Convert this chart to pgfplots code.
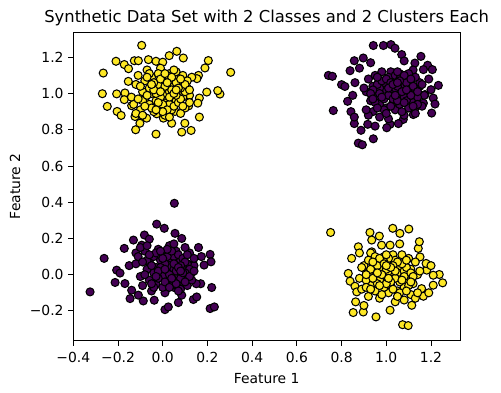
\documentclass[border=0pt]{standalone}
\usepackage{pgfplots}
\pgfplotsset{compat=1.18}
\usepackage{fontspec}
\setmainfont{DejaVu Sans}
\definecolor{vyel}{HTML}{FDE725}
\definecolor{vpur}{HTML}{440154}
\begin{document}
\begin{tikzpicture}
\begin{axis}[
  name=ax,
  scale only axis, width=278.6pt, height=222.5pt,
  xmin=-0.4, xmax=1.33, ymin=-0.365, ymax=1.34,
  xtick={-0.4,-0.2,0,0.2,0.4,0.6,0.8,1.0,1.2},
  xticklabels={−0.4,−0.2,0.0,0.2,0.4,0.6,0.8,1.0,1.2},
  ytick={-0.2,0,0.2,0.4,0.6,0.8,1.0,1.2},
  yticklabels={−0.2,0.0,0.2,0.4,0.6,0.8,1.0,1.2},
  tick align=outside, xtick pos=bottom, ytick pos=left,
  major tick length=3.5pt,
  tick label style={font=\fontsize{10}{12}\selectfont},
  xticklabel style={yshift=-1.5pt},
  label style={font=\fontsize{10}{12}\selectfont},
  xlabel={Feature 1}, ylabel={Feature 2},
  xlabel style={yshift=-0.5pt},
  title={Synthetic Data Set with 2 Classes and 2 Clusters Each},
  title style={font=\fontsize{11.8}{14}\selectfont, yshift=-5pt},
  axis line style={line width=0.6pt},
  every tick/.style={black, line width=0.6pt},
  clip=false,
]
% top-left cluster (yellow)
\addplot[only marks, mark=*, mark size=2.9pt, mark options={fill=vyel, draw=black, line width=0.75pt}] table {
x y
-0.094 1.266
-0.266 1.113
0.304 1.117
-0.270 0.999
-0.248 0.929
-0.204 0.901
-0.186 0.879
-0.121 0.800
-0.030 0.776
0.085 0.787
0.127 0.796
0.164 0.870
0.256 0.997
0.246 1.016
0.204 1.182
0.189 1.141
0.063 1.233
0.029 1.209
0.092 1.196
-0.209 1.178
-0.127 1.181
-0.109 1.181
-0.064 1.187
-0.030 1.178
0.000 1.173
-0.172 1.160
-0.153 1.137
0.160 1.100
0.153 1.082
0.197 1.008
0.164 0.975
0.157 0.947
0.116 0.932
-0.206 0.998
-0.169 1.003
-0.172 0.966
-0.139 0.933
-0.154 1.067
-0.124 0.873
-0.087 0.873
-0.072 0.864
-0.102 0.836
0.003 0.864
0.040 0.836
0.099 0.836
0.025 0.882
0.055 0.901
-0.027 0.888
-0.12 1.05
-0.08 0.97
-0.05 1.09
-0.02 0.93
0.00 1.02
0.03 1.11
0.06 0.96
0.09 1.06
0.12 0.99
-0.10 0.91
-0.07 1.13
-0.03 1.04
0.01 0.88
0.04 1.07
0.07 1.00
0.10 0.92
0.13 1.09
-0.14 0.98
-0.06 0.94
-0.01 1.14
0.02 0.97
0.05 1.04
0.08 0.89
0.11 1.03
-0.09 1.01
-0.04 0.90
0.00 1.08
0.03 0.94
0.06 1.12
0.09 0.98
-0.11 1.10
-0.05 1.00
-0.02 1.05
0.01 0.99
0.04 0.91
0.07 1.08
0.10 1.01
-0.13 0.94
-0.08 1.07
-0.03 0.96
0.02 1.10
0.05 0.93
0.08 1.03
0.12 0.95
-0.06 1.03
-0.01 0.98
0.03 1.01
0.06 1.06
-0.09 0.96
-0.04 1.06
0.00 0.94
0.04 1.02
0.09 1.10
-0.12 0.89
-0.07 0.99
-0.02 1.11
0.02 0.91
0.07 0.95
0.11 1.07
-0.10 1.04
-0.05 0.92
-0.01 1.08
0.05 1.13
0.08 0.97
-0.03 1.00
0.01 1.04
0.06 0.99
-0.08 0.93
0.03 0.98
0.10 1.05
-0.06 1.11
-0.02 0.95
0.04 1.09
0.07 1.03
-0.11 0.97
0.00 0.90
0.05 1.00
-0.04 1.02
0.02 1.06
0.09 0.93
-0.07 1.09
-0.01 1.01
0.03 0.87
0.06 1.02
0.12 1.02
-0.09 0.88
-0.05 1.05
0.01 1.11
0.08 1.08
-0.03 0.91
};
% top-right cluster (purple)
\addplot[only marks, mark=*, mark size=2.9pt, mark options={fill=vpur, draw=black, line width=0.75pt}] table {
x y
0.741 1.100
0.759 1.095
0.763 0.906
0.800 1.049
0.815 1.039
0.838 1.126
0.857 1.181
0.897 1.196
0.942 1.265
0.987 1.265
1.021 1.270
1.039 1.250
1.069 1.215
1.155 1.205
1.128 1.168
1.185 1.156
1.206 1.132
1.166 1.132
1.233 1.045
1.200 1.021
1.173 0.994
1.210 0.975
1.218 0.942
1.203 0.892
1.166 0.947
1.128 0.920
1.121 0.884
1.076 0.857
1.054 0.834
1.017 0.830
1.002 0.811
0.942 0.750
0.875 0.726
0.893 0.717
0.857 0.834
0.887 0.797
0.917 0.830
0.842 0.900
0.857 0.870
0.827 0.957
0.86 1.06
0.85 0.99
0.88 1.14
0.93 1.17
1.08 1.18
1.19 1.08
0.95 0.82
1.15 1.04
1.08 0.88
1.00 0.92
1.12 0.95
0.96 0.98
1.05 1.00
1.14 1.03
0.99 1.06
1.09 1.09
1.02 1.12
0.94 0.90
1.16 0.93
1.07 0.97
0.91 1.01
1.10 1.04
1.03 1.07
0.95 1.10
1.12 1.13
1.01 0.86
0.97 0.94
1.17 0.99
1.00 1.02
1.07 1.05
0.92 1.08
1.06 1.11
1.04 0.91
0.93 0.96
1.11 1.00
0.97 1.03
1.15 1.06
1.01 1.09
1.13 0.89
1.03 0.95
1.08 0.98
1.02 1.01
0.94 1.04
1.11 1.07
1.04 1.10
0.97 0.87
1.10 0.92
0.99 0.97
1.13 1.02
0.96 1.05
1.06 1.08
0.98 1.12
1.06 0.94
1.01 0.99
1.04 1.03
1.09 1.06
0.99 0.91
1.09 0.96
0.97 1.00
1.05 1.04
1.13 1.09
0.92 0.88
1.02 0.93
1.14 0.98
0.94 1.02
0.98 1.07
1.10 1.11
1.07 0.90
0.95 0.95
1.11 0.99
1.16 1.05
1.00 1.08
1.03 0.97
1.07 1.01
1.02 1.06
0.96 0.92
1.01 1.03
1.08 1.10
1.14 0.94
0.98 0.98
1.12 1.04
1.06 1.07
1.00 0.89
0.93 1.00
1.03 1.05
1.05 0.96
1.09 1.02
0.96 1.09
1.12 0.93
1.04 0.99
0.90 1.03
1.05 1.06
1.05 1.12
0.91 0.91
1.08 0.95
1.14 1.01
1.11 1.08
0.94 0.97
};
% bottom-left cluster (purple)
\addplot[only marks, mark=*, mark size=2.9pt, mark options={fill=vpur, draw=black, line width=0.75pt}] table {
x y
0.052 0.394
-0.027 0.279
0.007 0.256
0.055 0.228
0.085 0.200
-0.082 0.219
-0.060 0.196
-0.094 0.163
-0.131 0.191
-0.172 0.145
-0.262 0.090
-0.325 -0.095
0.212 0.112
0.216 0.071
0.185 0.053
0.219 -0.071
0.173 0.100
-0.206 0.025
-0.213 -0.043
-0.169 -0.049
-0.191 0.009
-0.146 -0.132
-0.087 -0.145
-0.038 -0.141
0.010 -0.193
0.025 -0.178
0.070 -0.154
0.085 -0.113
0.137 -0.137
0.152 -0.123
0.212 -0.187
0.231 -0.178
-0.139 -0.086
-0.109 -0.113
-0.15 0.05
0.17 -0.05
-0.12 0.12
0.16 0.15
-0.10 -0.01
-0.06 0.07
-0.03 -0.05
0.00 0.11
0.02 0.02
0.05 -0.07
0.08 0.08
0.11 -0.02
0.14 0.05
-0.08 0.13
-0.05 -0.09
-0.01 0.00
0.03 0.16
0.06 -0.03
0.09 0.04
0.12 0.12
0.15 -0.05
-0.12 0.06
-0.04 0.10
0.01 -0.10
0.04 0.07
0.07 0.00
0.10 0.15
0.13 0.01
-0.07 0.03
-0.02 0.14
0.02 -0.04
0.05 0.10
0.08 -0.08
0.11 0.06
-0.09 -0.06
-0.03 0.04
0.00 -0.01
0.03 0.05
0.06 0.13
0.09 -0.04
0.12 0.03
-0.11 0.10
-0.06 -0.03
-0.01 0.08
0.04 -0.06
0.07 0.11
0.10 0.01
0.14 0.09
-0.04 0.01
0.01 0.06
0.05 0.03
0.08 -0.02
-0.07 0.08
-0.02 -0.02
0.02 0.10
0.06 0.02
0.11 -0.06
-0.10 0.15
-0.05 0.05
0.00 -0.07
0.04 0.13
0.09 0.09
0.13 -0.03
-0.08 0.00
-0.03 0.12
0.01 -0.04
0.07 -0.09
0.10 0.07
-0.01 0.04
0.03 0.00
0.08 0.05
-0.06 0.11
0.05 0.06
0.12 -0.01
-0.04 -0.07
0.00 0.09
0.06 -0.05
0.09 0.01
-0.09 0.07
0.02 0.14
0.07 0.04
-0.02 0.02
0.04 -0.02
0.11 0.11
-0.05 -0.05
0.01 0.03
0.05 0.17
0.08 0.02
0.14 0.02
-0.07 0.16
-0.03 -0.01
0.03 -0.07
0.10 -0.04
-0.01 0.13
};
% bottom-right cluster (yellow)
\addplot[only marks, mark=*, mark size=2.9pt, mark options={fill=vyel, draw=black, line width=0.75pt}] table {
x y
0.751 0.233
0.927 0.233
0.969 0.213
1.029 0.256
1.061 0.228
1.101 0.252
0.875 0.154
0.845 0.090
0.830 0.007
0.838 -0.036
0.860 -0.064
0.868 -0.095
0.863 -0.150
0.852 -0.209
0.897 -0.206
0.954 -0.233
1.017 -0.196
1.073 -0.276
1.098 -0.281
1.114 -0.169
1.166 -0.119
1.158 -0.077
1.210 -0.058
1.252 -0.045
1.237 0.001
1.210 -0.003
1.181 0.025
1.178 0.062
1.151 0.098
1.143 0.145
1.148 0.182
1.017 0.163
0.979 0.163
0.935 0.191
0.935 0.126
1.19 -0.10
0.88 0.12
1.06 0.17
0.90 -0.17
1.20 0.05
0.97 -0.13
1.05 -0.09
0.93 -0.06
1.09 -0.03
1.00 -0.01
0.91 0.02
1.06 0.05
0.96 0.08
1.03 0.11
1.11 -0.11
0.89 -0.08
0.98 -0.04
1.14 0.00
0.95 0.03
1.02 0.06
1.10 0.09
0.93 0.12
1.04 -0.15
1.08 -0.07
0.88 -0.02
1.05 0.01
0.98 0.04
1.13 0.07
0.99 0.10
1.01 -0.10
1.12 -0.05
0.94 -0.01
1.08 0.02
0.90 0.05
1.04 0.08
0.92 -0.12
1.02 -0.06
0.97 -0.03
1.03 0.00
1.11 0.03
0.94 0.06
1.01 0.09
1.08 -0.14
0.95 -0.09
1.06 -0.04
0.92 0.01
1.09 0.04
0.99 0.07
1.07 0.11
0.99 -0.07
1.04 -0.02
1.01 0.02
0.96 0.05
1.06 -0.10
0.96 -0.05
1.08 -0.01
1.00 0.03
0.92 0.08
1.13 -0.13
1.03 -0.08
0.91 -0.03
1.11 0.01
1.07 0.06
0.95 0.10
0.98 -0.11
1.10 -0.06
0.94 -0.02
0.89 0.04
1.05 0.07
1.02 -0.04
0.98 0.00
1.03 0.05
1.09 -0.09
1.04 0.02
0.97 0.09
0.91 -0.07
1.07 -0.03
0.93 0.03
0.99 0.06
1.05 -0.12
1.12 -0.01
1.02 0.04
1.00 -0.05
0.96 0.01
1.09 0.08
0.93 -0.08
1.01 -0.02
1.15 0.02
1.00 0.05
1.00 0.11
1.14 -0.10
0.97 -0.06
0.91 0.00
0.94 0.07
1.11 -0.04
};
\end{axis}
\pgfresetboundingbox
\path ([shift={(-52.8pt,-37.4pt)}]ax.south west) rectangle ([shift={(29.5pt,23pt)}]ax.north east);
\end{tikzpicture}
\end{document}
